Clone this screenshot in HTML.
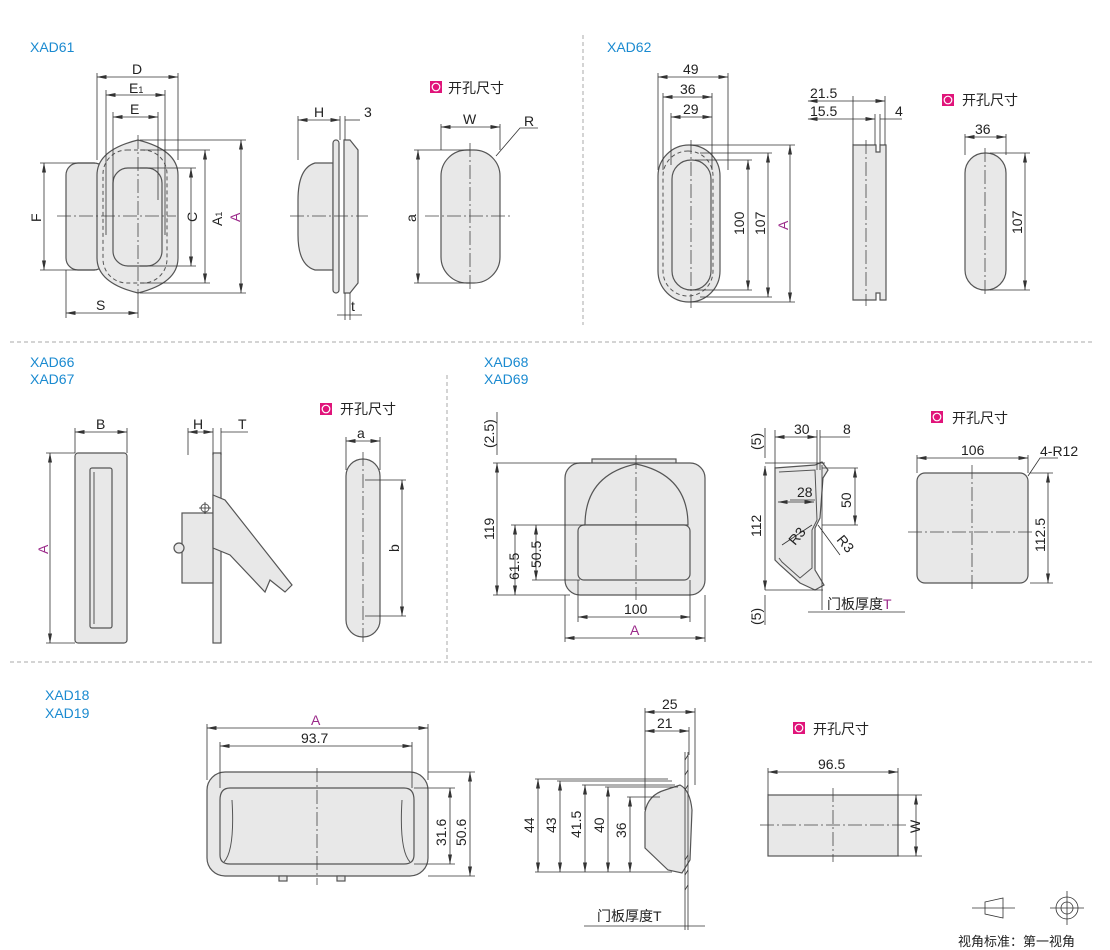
<!DOCTYPE html>
<html><head><meta charset="utf-8"><style>
html,body{margin:0;padding:0;background:#fff;}
svg{display:block;}
text{font-family:"Liberation Sans","Noto Sans CJK SC",sans-serif;font-size:14px;fill:#222;}
.lbl{fill:#1a8ad0;font-size:14px;}
.mg{fill:#9b2a8a;}
.sh{fill:#e8e8e8;stroke:#555;stroke-width:1.2;}
.sh2{fill:none;stroke:#555;stroke-width:1;}
.ext{stroke:#333;stroke-width:0.8;fill:none;}
.dim{stroke:#333;stroke-width:0.8;fill:none;marker-start:url(#a);marker-end:url(#a);}
.cl{stroke:#444;stroke-width:0.8;stroke-dasharray:14 3 2 3;fill:none;}
.dv{stroke:#aaa;stroke-width:1;stroke-dasharray:4 3;}
.dash{fill:none;stroke:#555;stroke-width:1;stroke-dasharray:4 3;}
</style></head><body>
<svg width="1110" height="950" viewBox="0 0 1110 950" xmlns="http://www.w3.org/2000/svg">
<defs><marker id="a" markerWidth="10" markerHeight="6" refX="9.5" refY="3" orient="auto-start-reverse" markerUnits="userSpaceOnUse"><path d="M0,1 L10,3 L0,5z" fill="#333"/></marker></defs>

<!-- dividers -->
<line class="dv" x1="583" y1="35" x2="583" y2="325"/>
<line class="dv" x1="10" y1="342" x2="1095" y2="342"/>
<line class="dv" x1="447" y1="375" x2="447" y2="660"/>
<line class="dv" x1="10" y1="662" x2="1095" y2="662"/>

<!-- XAD61 -->
<text class="lbl" x="30" y="52">XAD61</text>
<rect class="sh" x="66" y="163" width="40" height="107" rx="12"/>
<path class="sh" d="M97,175 Q97,150 138,140 Q178,150 178,175 L178,258 Q178,283 138,293 Q97,283 97,258Z"/>
<rect class="dash" x="103" y="150" width="64" height="133" rx="24"/>
<rect class="sh" x="113" y="168" width="49" height="98" rx="15"/>
<line class="cl" x1="57" y1="216" x2="176" y2="216"/>
<line class="cl" x1="138" y1="135" x2="138" y2="300"/>
<path class="ext" d="M97,73V160 M178,73V160 M106,90V235 M165,90V235 M113,112V200 M158,112V200 M40,163H95 M40,270H95 M140,168H196 M140,266H196 M140,150H210 M140,283H210 M140,140H246 M140,293H246 M66,270V318 M138,300V318"/>
<line class="dim" x1="97" y1="77" x2="178" y2="77"/><text x="132" y="74">D</text>
<line class="dim" x1="106" y1="95" x2="165" y2="95"/><text x="129" y="93">E<tspan font-size="9">1</tspan></text>
<line class="dim" x1="113" y1="117" x2="158" y2="117"/><text x="130" y="114">E</text>
<line class="dim" x1="44" y1="163" x2="44" y2="270"/><text transform="translate(41,222) rotate(-90)">F</text>
<line class="dim" x1="191" y1="168" x2="191" y2="266"/><text transform="translate(197,222) rotate(-90)">C</text>
<line class="dim" x1="205" y1="150" x2="205" y2="283"/><text transform="translate(222,226) rotate(-90)">A<tspan font-size="9">1</tspan></text>
<line class="dim" x1="241" y1="140" x2="241" y2="293"/><text class="mg" transform="translate(240,222) rotate(-90)">A</text>
<line class="dim" x1="66" y1="313" x2="138" y2="313"/><text x="96" y="310">S</text>
<!-- side -->
<path class="sh" d="M333,163 L315,163 Q298,168 298,200 L298,235 Q298,265 315,270 L333,270Z"/>
<rect class="sh" x="333" y="140" width="6" height="153" rx="3"/>
<path class="sh" d="M344,140 L350,140 L358,150 L358,283 L350,293 L344,293Z"/>
<line class="cl" x1="290" y1="216" x2="368" y2="216"/>
<path class="ext" d="M298,116V160 M340,116V140 M345,116V140 M345,293V320 M350,293V320"/>
<line class="dim" x1="298" y1="120" x2="340" y2="120"/><text x="314" y="117">H</text>
<line class="ext" x1="345" y1="120" x2="360" y2="120"/><text x="364" y="117">3</text>
<line class="ext" x1="337" y1="315" x2="362" y2="315"/><text x="351" y="311">t</text>
<!-- cutout -->
<rect x="430" y="81" width="12" height="12" fill="#e0147a"/><circle cx="436" cy="87" r="3.8" fill="none" stroke="#fff" stroke-width="1.2"/>
<text x="448" y="93">开孔尺寸</text>
<rect class="sh" x="441" y="150" width="59" height="133" rx="26"/>
<line class="cl" x1="425" y1="216" x2="510" y2="216"/>
<line class="cl" x1="470" y1="143" x2="470" y2="290"/>
<path class="ext" d="M441,124V150 M500,124V150 M414,150H470 M414,283H470 M496,156L520,128H538"/>
<line class="dim" x1="441" y1="127" x2="500" y2="127"/><text x="463" y="124">W</text>
<text x="524" y="126">R</text>
<line class="dim" x1="418" y1="150" x2="418" y2="283"/><text transform="translate(416,222) rotate(-90)">a</text>

<!-- XAD62 -->
<text class="lbl" x="607" y="52">XAD62</text>
<rect class="sh" x="658" y="145" width="62" height="157" rx="31"/>
<rect class="dash" x="663" y="151" width="50" height="145" rx="25"/>
<rect class="sh" x="672" y="160" width="39" height="130" rx="19"/>
<line class="cl" x1="691" y1="140" x2="691" y2="308"/>
<path class="ext" d="M658,73V170 M728,73V170 M663,93V170 M712,93V170 M671,113V165 M712,113V165 M695,160H752 M695,290H752 M700,153H772 M700,297H772 M690,145H795 M690,302H795"/>
<line class="dim" x1="658" y1="77" x2="728" y2="77"/><text x="683" y="74">49</text>
<line class="dim" x1="663" y1="97" x2="712" y2="97"/><text x="680" y="94">36</text>
<line class="dim" x1="671" y1="117" x2="712" y2="117"/><text x="683" y="114">29</text>
<line class="dim" x1="748" y1="160" x2="748" y2="290"/><text transform="translate(744,235) rotate(-90)">100</text>
<line class="dim" x1="768" y1="153" x2="768" y2="297"/><text transform="translate(765,235) rotate(-90)">107</text>
<line class="dim" x1="790" y1="145" x2="790" y2="302"/><text class="mg" transform="translate(788,230) rotate(-90)">A</text>
<path class="sh" d="M853,145 H876 V152 H880 V145 H886 V300 H880 V293 H876 V300 H853Z"/>
<line class="cl" x1="866" y1="140" x2="866" y2="306"/>
<path class="ext" d="M853,96V145 M885,96V145 M875,114V145 M880,114V145"/>
<line class="dim" x1="808" y1="101" x2="885" y2="101"/><text x="810" y="98">21.5</text>
<line class="dim" x1="808" y1="119" x2="875" y2="119"/><text x="810" y="116">15.5</text>
<line class="ext" x1="880" y1="119" x2="902" y2="119"/><text x="895" y="116">4</text>
<rect x="942" y="94" width="12" height="12" fill="#e0147a"/><circle cx="948" cy="100" r="3.8" fill="none" stroke="#fff" stroke-width="1.2"/>
<text x="962" y="105">开孔尺寸</text>
<rect class="sh" x="965" y="153" width="41" height="137" rx="20"/>
<line class="cl" x1="985" y1="148" x2="985" y2="296"/>
<path class="ext" d="M965,134V155 M1006,134V155 M990,153H1030 M990,290H1030"/>
<line class="dim" x1="965" y1="137" x2="1006" y2="137"/><text x="975" y="134">36</text>
<line class="dim" x1="1025" y1="153" x2="1025" y2="290"/><text transform="translate(1022,234) rotate(-90)">107</text>

<!-- XAD66/67 -->
<text class="lbl" x="30" y="367">XAD66</text>
<text class="lbl" x="30" y="384">XAD67</text>
<rect class="sh" x="75" y="453" width="52" height="190" rx="3"/>
<rect class="sh" x="90" y="468" width="22" height="160" rx="2"/>
<line class="sh2" x1="94" y1="472" x2="94" y2="624"/>
<path class="ext" d="M75,428V453 M127,428V453 M46,453H75 M46,643H75"/>
<line class="dim" x1="75" y1="432" x2="127" y2="432"/><text x="96" y="429">B</text>
<line class="dim" x1="50" y1="453" x2="50" y2="643"/><text class="mg" transform="translate(48,554) rotate(-90)">A</text>
<rect class="sh" x="213" y="453" width="8" height="190"/>
<rect class="sh" x="182" y="513" width="31" height="70"/>
<path class="sh" d="M213,495 L225,500 L292,585 L285,592 L270,580 L265,592 L230,555 L213,548Z"/>
<circle class="sh2" cx="205" cy="508" r="4"/><line class="ext" x1="199" y1="508" x2="211" y2="508"/><line class="ext" x1="205" y1="502" x2="205" y2="514"/>
<circle class="sh" cx="179" cy="548" r="5"/>
<path class="ext" d="M188,428V455 M213,428V455 M221,428V455"/>
<line class="dim" x1="188" y1="432" x2="213" y2="432"/><text x="193" y="429">H</text>
<line class="ext" x1="221" y1="432" x2="248" y2="432"/><text x="238" y="429">T</text>
<rect x="320" y="403" width="12" height="12" fill="#e0147a"/><circle cx="326" cy="409" r="3.8" fill="none" stroke="#fff" stroke-width="1.2"/>
<text x="340" y="414">开孔尺寸</text>
<rect class="sh" x="346" y="459" width="34" height="178" rx="17"/>
<line class="cl" x1="363" y1="452" x2="363" y2="645"/>
<path class="ext" d="M346,437V470 M380,437V470 M365,480H406 M365,616H406"/>
<line class="dim" x1="346" y1="441" x2="380" y2="441"/><text x="357" y="438">a</text>
<line class="dim" x1="402" y1="480" x2="402" y2="616"/><text transform="translate(399,552) rotate(-90)">b</text>

<!-- XAD68/69 -->
<text class="lbl" x="484" y="367">XAD68</text>
<text class="lbl" x="484" y="384">XAD69</text>
<rect class="sh" x="592" y="459" width="84" height="5"/>
<rect class="sh" x="565" y="463" width="140" height="132" rx="15"/>
<path class="sh" d="M585,525 Q585,475 636,464 Q688,475 688,525Z"/>
<rect class="sh" x="578" y="525" width="112" height="55" rx="6"/>
<line class="cl" x1="636" y1="455" x2="636" y2="600"/>
<path class="ext" d="M493,463H590 M493,595H570 M511,525H585 M532,580H580 M578,580V622 M690,580V622 M565,595V642 M705,595V642"/>
<line class="ext" x1="497" y1="455" x2="497" y2="412"/><text transform="translate(494,448) rotate(-90)">(2.5)</text>
<line class="dim" x1="497" y1="463" x2="497" y2="595"/><text transform="translate(494,540) rotate(-90)">119</text>
<line class="dim" x1="515" y1="525" x2="515" y2="595"/><text transform="translate(519,580) rotate(-90)">61.5</text>
<line class="dim" x1="536" y1="525" x2="536" y2="580"/><text transform="translate(541,568) rotate(-90)">50.5</text>
<line class="dim" x1="578" y1="617" x2="690" y2="617"/><text x="624" y="614">100</text>
<line class="dim" x1="565" y1="638" x2="705" y2="638"/><text class="mg" x="630" y="635">A</text>
<!-- side 68 -->
<path class="sh" d="M775,468 L815,465 L822,462 L828,470 L823,478 L820,518 L815,528 L815,570 L824,585 L815,590 L800,583 L780,565 L775,560Z"/>
<path class="sh2" d="M779,472 L815,470 L817,520 L812,530 L812,568 L800,578 L782,562 L779,558"/>
<line class="ext" x1="822" y1="465" x2="822" y2="610"/>
<path class="ext" d="M765,463H825 M765,590H823 M775,430V468 M817,430V470 M820,430V470 M822,468H858 M822,525H858 M790,500H815"/>
<line class="ext" x1="765" y1="428" x2="765" y2="458"/><text transform="translate(761,450) rotate(-90)">(5)</text>
<line class="dim" x1="765" y1="466" x2="765" y2="590"/><text transform="translate(761,537) rotate(-90)">112</text>
<line class="ext" x1="765" y1="595" x2="765" y2="625"/><text transform="translate(761,625) rotate(-90)">(5)</text>
<line class="dim" x1="775" y1="437" x2="817" y2="437"/><text x="794" y="434">30</text>
<line class="ext" x1="820" y1="437" x2="850" y2="437"/><text x="843" y="434">8</text>
<line class="dim" x1="855" y1="468" x2="855" y2="525"/><text transform="translate(851,508) rotate(-90)">50</text>
<line class="dim" x1="778" y1="502" x2="814" y2="502"/><text x="797" y="497">28</text>
<line class="ext" x1="782" y1="545" x2="812" y2="525"/><text transform="translate(795,546) rotate(-50)">R3</text>
<line class="ext" x1="818" y1="525" x2="840" y2="555"/><text transform="translate(836,540) rotate(50)">R3</text>
<line class="ext" x1="808" y1="612" x2="905" y2="612"/><text x="827" y="609">门板厚度<tspan class="mg">T</tspan></text>
<rect x="931" y="411" width="12" height="12" fill="#e0147a"/><circle cx="937" cy="417" r="3.8" fill="none" stroke="#fff" stroke-width="1.2"/>
<text x="952" y="423">开孔尺寸</text>
<rect class="sh" x="917" y="473" width="111" height="110" rx="8"/>
<line class="cl" x1="908" y1="532" x2="1035" y2="532"/>
<line class="cl" x1="972" y1="465" x2="972" y2="590"/>
<path class="ext" d="M917,455V473 M1028,455V473 M1028,476L1040,458H1058 M1030,473H1053 M1030,583H1053"/>
<line class="dim" x1="917" y1="458" x2="1028" y2="458"/><text x="961" y="455">106</text>
<text x="1040" y="456">4-R12</text>
<line class="dim" x1="1048" y1="473" x2="1048" y2="583"/><text transform="translate(1045,552) rotate(-90)">112.5</text>

<!-- XAD18/19 -->
<text class="lbl" x="45" y="700">XAD18</text>
<text class="lbl" x="45" y="718">XAD19</text>
<rect class="sh" x="207" y="772" width="221" height="104" rx="18"/>
<path class="sh" d="M220,800 Q220,788 230,788 L404,788 Q414,788 414,800 L414,855 Q414,864 404,864 L230,864 Q220,864 220,855Z"/>
<path class="sh2" d="M232,800 Q235,850 224,862 M402,800 Q399,850 410,862"/>
<rect class="sh" x="279" y="876" width="8" height="5"/><rect class="sh" x="337" y="876" width="8" height="5"/>
<line class="cl" x1="317" y1="768" x2="317" y2="885"/>
<path class="ext" d="M207,724V780 M428,724V780 M220,742V788 M412,742V788 M414,788H455 M414,864H455 M428,772H475 M428,876H475"/>
<line class="dim" x1="207" y1="728" x2="428" y2="728"/><text class="mg" x="311" y="725">A</text>
<line class="dim" x1="220" y1="746" x2="412" y2="746"/><text x="301" y="743">93.7</text>
<line class="dim" x1="450" y1="788" x2="450" y2="864"/><text transform="translate(446,846) rotate(-90)">31.6</text>
<line class="dim" x1="470" y1="772" x2="470" y2="876"/><text transform="translate(466,846) rotate(-90)">50.6</text>
<!-- side 18 -->
<path class="sh" d="M665,790 Q648,795 645,812 L645,848 L668,870 L682,873 L690,860 L692,810 Q690,790 680,785Z"/>
<line class="ext" x1="685" y1="752" x2="685" y2="900"/>
<line class="ext" x1="688" y1="752" x2="688" y2="900"/>
<path class="ext" d="M685,760l3,-5 M685,775l3,-5 M685,790l3,-5 M685,860l3,-5 M685,875l3,-5 M685,890l3,-5"/>
<path class="ext" d="M645,708V810 M695,708V785 M689,727V755 M535,779H668 M557,781H672 M582,785H675 M605,787H678 M627,797H660 M535,872H672 M688,900V930 M685,900V930"/>
<line class="dim" x1="645" y1="712" x2="695" y2="712"/><text x="662" y="709">25</text>
<line class="dim" x1="645" y1="731" x2="689" y2="731"/><text x="657" y="728">21</text>
<line class="dim" x1="538" y1="779" x2="538" y2="872"/><text transform="translate(534,833) rotate(-90)">44</text>
<line class="dim" x1="560" y1="781" x2="560" y2="872"/><text transform="translate(556,833) rotate(-90)">43</text>
<line class="dim" x1="585" y1="785" x2="585" y2="872"/><text transform="translate(581,838) rotate(-90)">41.5</text>
<line class="dim" x1="608" y1="787" x2="608" y2="872"/><text transform="translate(604,833) rotate(-90)">40</text>
<line class="dim" x1="630" y1="797" x2="630" y2="872"/><text transform="translate(626,838) rotate(-90)">36</text>
<line class="ext" x1="584" y1="926" x2="705" y2="926"/><text x="597" y="921">门板厚度T</text>
<rect x="793" y="722" width="12" height="12" fill="#e0147a"/><circle cx="799" cy="728" r="3.8" fill="none" stroke="#fff" stroke-width="1.2"/>
<text x="813" y="734">开孔尺寸</text>
<rect class="sh" x="768" y="795" width="130" height="61"/>
<line class="cl" x1="760" y1="825" x2="906" y2="825"/>
<line class="cl" x1="833" y1="788" x2="833" y2="862"/>
<path class="ext" d="M768,768V795 M898,768V795 M898,795H922 M898,856H922"/>
<line class="dim" x1="768" y1="772" x2="898" y2="772"/><text x="818" y="769">96.5</text>
<line class="dim" x1="916" y1="795" x2="916" y2="856"/><text transform="translate(920,833) rotate(-90)">W</text>
<!-- projection symbol -->
<path class="ext" d="M985,902 L1003,898 L1003,918 L985,914Z M972,908H1015"/>
<circle class="ext" cx="1067" cy="908" r="11"/><circle class="ext" cx="1067" cy="908" r="6"/>
<path class="ext" d="M1050,908H1084 M1067,891V925"/>
<text x="958" y="946" style="font-size:13px">视角标准：第一视角</text>
</svg>
</body></html>
